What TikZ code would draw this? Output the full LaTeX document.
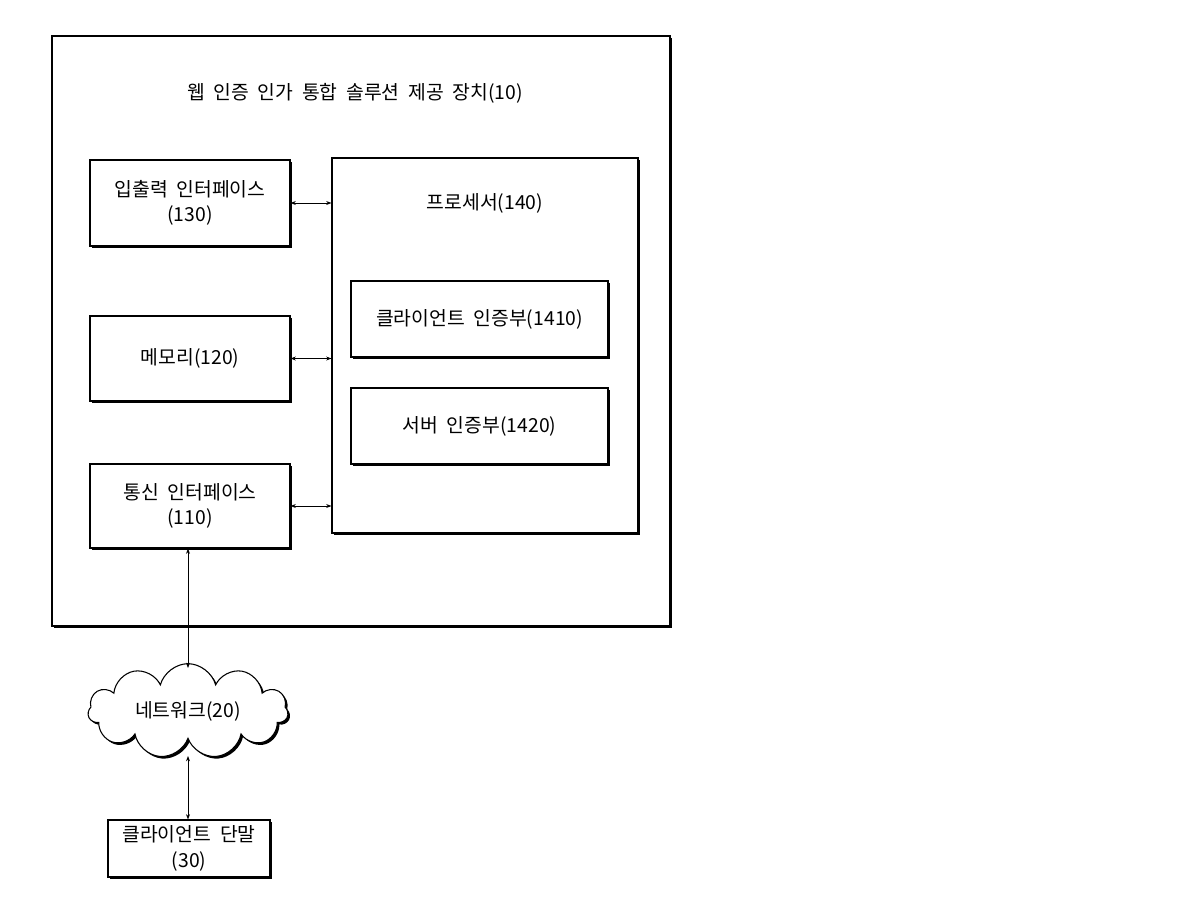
\documentclass[tikz,border=0pt]{standalone}
\usepackage{fontspec}
\setmainfont{Noto Sans CJK KR}
\usetikzlibrary{shapes.symbols,shadows,arrows.meta}
\newcommand\myfnt{\fontsize{14.5}{19}\selectfont\spaceskip 0.45em\relax}
\begin{document}
\begin{tikzpicture}[x=0.75pt,y=-0.75pt,
 fnt/.style={font=\myfnt},
 bx/.style={draw,fill=white,line width=0.8pt,drop shadow={shadow xshift=1.6pt,shadow yshift=-1.6pt,fill=black,opacity=1},inner sep=0pt,align=center,fnt},
 ar/.style={{Stealth[length=4pt,width=3pt]}-{Stealth[length=4pt,width=3pt]},line width=0.6pt}]
\useasboundingbox (0,0) rectangle (1200,900);
\node[bx,minimum width=463.5pt,minimum height=442.5pt] (dev) at (361,331) {};
\node[fnt] (t) at (355,93) {웹 인증 인가 통합 솔루션 제공 장치(10)};
\node[bx,minimum width=150pt,minimum height=64.5pt] (io) at (190,203) {입출력 인터페이스\\(130)};
\node[bx,minimum width=150pt,minimum height=63.75pt] (mem) at (190,358.5) {메모리(120)};
\node[bx,minimum width=150pt,minimum height=63pt] (com) at (190,506) {통신 인터페이스\\(110)};
\node[bx,minimum width=229.5pt,minimum height=281.25pt] (pr) at (485,345.5) {};
\node[fnt] (prl) at (485,203) {프로세서(140)};
\node[bx,minimum width=192.75pt,minimum height=57pt] (ca) at (479.5,319) {클라이언트 인증부(1410)};
\node[bx,minimum width=192.75pt,minimum height=57pt] (sa) at (479.5,426) {서버 인증부(1420)};
\node[cloud,cloud puffs=11,aspect=2.3,draw,fill=white,line width=0.8pt,drop shadow={shadow xshift=1.6pt,shadow yshift=-1.6pt,fill=black,opacity=1},minimum width=150pt,minimum height=70pt,inner sep=0pt,fnt] (net) at (188,711) {네트워크(20)};
\node[bx,minimum width=121.5pt,minimum height=42.75pt] (cl) at (189,848.5) {클라이언트 단말\\(30)};
\draw[ar] (io.east) -- (io.east -| pr.west);
\draw[ar] (mem.east) -- (mem.east -| pr.west);
\draw[ar] (com.east) -- (com.east -| pr.west);
\draw[ar] (com.south -| 188,0) -- (188,668);
\draw[ar] (188,756) -- (cl.north -| 188,0);
\end{tikzpicture}
\end{document}
